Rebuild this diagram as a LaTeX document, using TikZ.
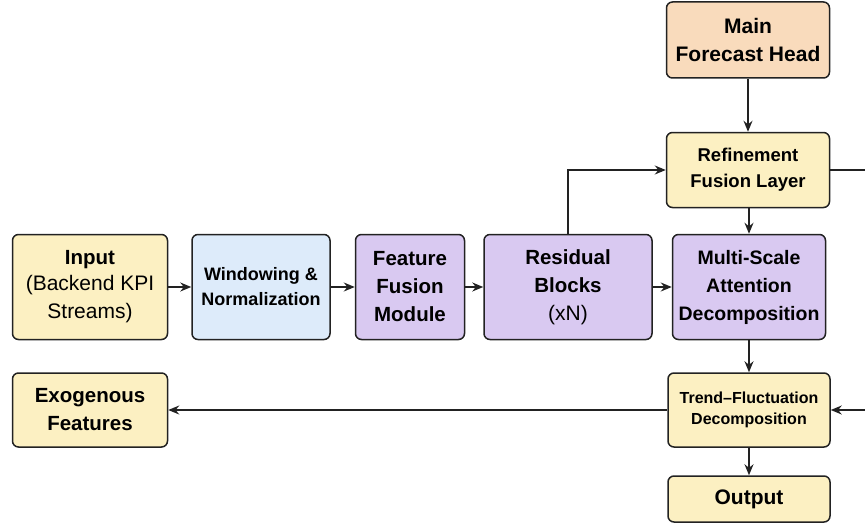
\documentclass[tikz,border=0pt]{standalone}
\usepackage{fontspec}
\setmainfont{Liberation Sans}
\usepackage{tikz}
\usetikzlibrary{arrows.meta,positioning,calc}
\definecolor{pipeyellow}{HTML}{FCF0C2}
\definecolor{pipeblue}{HTML}{DDEBFA}
\definecolor{pipepurple}{HTML}{D9C9F1}
\definecolor{pipepeach}{HTML}{F9DBBC}
\definecolor{pipeedge}{HTML}{222222}
\newcommand{\plainsub}{\mdseries\fontsize{21}{27}\selectfont}
\tikzset{
  stage/.style={rectangle,rounded corners=6pt,draw=pipeedge,line width=1.5pt,
    align=center,inner sep=2pt,font=\bfseries\fontsize{20.5}{28}\selectfont},
  inbox/.style={stage,fill=pipeyellow},
  prepbox/.style={stage,fill=pipeblue},
  corebox/.style={stage,fill=pipepurple},
  headbox/.style={stage,fill=pipepeach},
  flow/.style={-{Stealth[length=11pt,width=9pt]},line width=1.5pt,draw=pipeedge}
}
\begin{document}
\begin{tikzpicture}[x=1pt,y=-1pt]
  \useasboundingbox (0,0) rectangle (865,527);
  % main row
  \node[inbox,minimum width=155pt,minimum height=105pt] (input) at (90,287)
    {Input\\[-2pt]\plainsub (Backend KPI\\\plainsub Streams)};
  \node[prepbox,minimum width=138pt,minimum height=105pt,font=\bfseries\fontsize{18}{25}\selectfont] (window) at (261,287)
    {Windowing \&\\Normalization};
  \node[corebox,minimum width=109pt,minimum height=105pt] (fusion) at (410,287)
    {Feature\\Fusion\\Module};
  \node[corebox,minimum width=168pt,minimum height=105pt] (resid) at (568,287)
    {Residual\\Blocks\\\plainsub (xN)};
  \node[corebox,minimum width=153pt,minimum height=105pt,font=\bfseries\fontsize{19.5}{28}\selectfont] (msad) at (749,287)
    {Multi-Scale\\Attention\\Decomposition};
  % right column
  \node[headbox,minimum width=163pt,minimum height=76pt,font=\bfseries\fontsize{21}{28}\selectfont] (head) at (748,40)
    {Main\\Forecast Head};
  \node[inbox,minimum width=163pt,minimum height=75pt,font=\bfseries\fontsize{18.5}{26}\selectfont] (refine) at (748,170)
    {Refinement\\Fusion Layer};
  \node[inbox,minimum width=162pt,minimum height=74pt,font=\bfseries\fontsize{16}{21}\selectfont] (trend) at (749,410)
    {Trend--Fluctuation\\Decomposition};
  \node[inbox,minimum width=162pt,minimum height=46pt,font=\bfseries\fontsize{21}{28}\selectfont] (output) at (749,499)
    {Output};
  \node[inbox,minimum width=155pt,minimum height=74pt] (exog) at (90,410)
    {Exogenous\\Features};
  % connectors
  \draw[flow] (input) -- (window);
  \draw[flow] (window) -- (fusion);
  \draw[flow] (fusion) -- (resid);
  \draw[flow] (resid) -- (msad);
  \draw[flow] (head) -- (refine);
  \draw[flow] (refine.south -| msad.north) -- (msad);
  \draw[flow] (msad) -- (trend.north -| msad.south);
  \draw[flow] (trend.south -| output.north) -- (output);
  \draw[flow] (resid.north) |- (refine.west);
  \draw[flow] (trend) -- (exog);
  \draw[flow] (refine.east) -- ++(60,0) |- (trend.east);
\end{tikzpicture}
\end{document}
